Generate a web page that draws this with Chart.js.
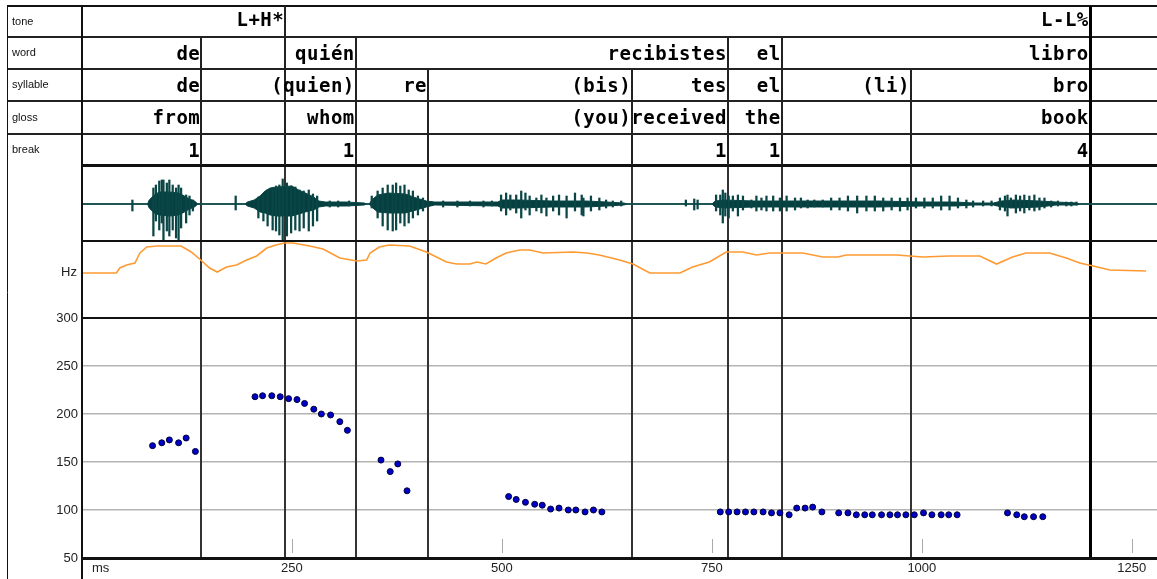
<!DOCTYPE html>
<html lang="es">
<head>
<meta charset="UTF-8">
<title>¿De quién recibistes el libro?</title>
<script src="https://cdn.jsdelivr.net/npm/chart.js"></script>
<style>
  body { margin: 0; background: #fff; }
  canvas { display: block; }
</style>
</head>
<body>
<canvas id="grafico" width="1157" height="579"></canvas>
<script>
// ---- annotation tiers (segment end times in ms) ----
const tierNames = ['tone', 'word', 'syllable', 'gloss', 'break'];
const toneEnds = [242, 1200];
const toneLabels = ['L+H*', 'L-L%'];
const wordEnds = [142, 326, 769, 833, 1200];
const wordLabels = ['de', 'quién', 'recibistes', 'el', 'libro'];
const syllableEnds = [142, 326, 412, 655, 769, 833, 987, 1200];
const syllableLabels = ['de', '(quien)', 're', '(bis)', 'tes', 'el', '(li)', 'bro'];
const glossLabels = ['from', 'whom', '', '(you)', 'received', 'the', '', 'book'];
const breakLabels = ['1', '1', '', '', '1', '1', '', '4'];

// ---- F0 measurements (ms, Hz) ----
const f0Ms = [84, 95, 104, 115, 124, 135,
  206, 215, 226, 236, 246, 256, 265, 276, 285, 296, 307, 316,
  356, 367, 376, 387,
  508, 517, 528, 539, 548, 558, 568, 579, 588, 599, 609, 619,
  760, 770, 780, 790, 800, 811, 821, 831, 842, 851, 861, 870, 881, 901, 912, 922, 932,
  941, 952, 962, 971, 981, 991, 1002, 1012, 1023, 1032, 1042, 1102, 1113, 1122, 1133, 1144];
const f0Hz = [167, 170, 173, 170, 175, 161,
  218, 219, 219, 218, 216, 215, 211, 205, 200, 199, 192, 183,
  152, 140, 148, 120,
  114, 111, 108, 106, 105, 101, 102, 100, 100, 98, 100, 98,
  98, 98, 98, 98, 98, 98, 97, 97, 95, 102, 102, 103, 98, 97, 97, 95, 95,
  95, 95, 95, 95, 95, 95, 97, 95, 95, 95, 95, 97, 95, 93, 93, 93];

// ---- smoothed pitch contour (ms, level above panel floor) ----
const contourMs = [0, 0, 41, 45, 53, 63, 69, 77, 89, 118, 130, 140, 152, 161, 172, 184, 196, 208, 220, 231,
  241, 251, 271, 287, 307, 327, 339, 343, 354, 366, 390, 410, 434, 446, 462, 470, 481, 493, 505, 521,
  533, 549, 585, 601, 616, 640, 656, 676, 712, 727, 747, 767, 787, 803, 819, 858, 882, 900, 910, 970,
  1001, 1033, 1069, 1089, 1108, 1124, 1152, 1172, 1188, 1204, 1224, 1267];
const contourLevel = [1, 45, 45, 50, 53, 55, 65, 71, 72, 72, 66, 59, 50, 46, 51, 53, 58, 62, 70, 73,
  75, 75, 72, 69, 60, 57, 58, 65, 71, 73, 72, 66, 56, 54, 54, 56, 54, 60, 65, 68,
  68, 65, 66, 65, 63, 58, 54, 45, 45, 51, 56, 66, 66, 63, 65, 65, 61, 61, 63, 63,
  61, 62, 62, 54, 61, 65, 65, 60, 55, 52, 48, 47];

// ---- waveform: dense core envelope ----
const coreMs = [0, 78, 80, 86, 92, 105, 115, 122, 128, 134, 138, 194, 197, 205, 212, 218, 224, 232, 250, 258,
  266, 276, 282, 290, 315, 336, 339, 342, 345, 352, 365, 385, 398, 410, 420, 495, 500, 520, 560, 600,
  625, 645, 650, 750, 754, 765, 800, 850, 900, 950, 1000, 1040, 1062, 1085, 1095, 1110, 1140, 1160, 1185, 1188, 1280];
const coreHigh = [0, 0, 4, 9, 12, 12, 11, 8, 5, 3, 0, 0, 2, 4, 8, 13, 16, 17, 18, 14,
  11, 7, 3, 2, 2, 1, 0, 0, 4, 9, 11, 10, 6, 3, 2, 2, 4, 4, 3, 3,
  2, 1, 0, 0, 3, 4, 3, 3, 3, 3, 2, 2, 1, 1, 3, 4, 3, 2, 1, 0, 0];
const coreLow = [0, 0, -4, -9, -11, -12, -11, -8, -5, -3, 0, 0, -2, -4, -8, -9, -11, -12, -12, -10,
  -8, -6, -3, -2, -2, -1, 0, 0, -3, -8, -9, -9, -6, -3, -1, -2, -4, -4, -3, -3,
  -2, -1, 0, 0, -3, -4, -3, -3, -3, -3, -2, -2, -1, -1, -3, -4, -3, -1, -1, 0, 0];

// ---- waveform: individual peaks ----
const spikeMs = [60,
  85, 88, 92, 95, 97, 101, 104, 108, 112, 115, 118, 124, 128, 132,
  183, 210, 216, 221, 227, 231, 235, 239, 244, 249, 254, 259, 264, 270, 275, 280, 295, 305, 318,
  345, 352, 358, 364, 370, 374, 379, 384, 389, 394, 400, 406, 430, 447, 462, 478, 488,
  499, 505, 510, 517, 523, 528, 533, 541, 547, 553, 561, 568, 577, 587, 595, 597, 606, 616, 624, 632, 642,
  719, 729, 733,
  755, 760, 763, 766, 770, 775, 781, 787, 797, 803, 809, 815, 823, 831, 839, 849, 856, 864, 872, 882,
  892, 902, 912, 923, 934, 944, 954, 964, 974, 983, 993, 1003, 1013, 1023, 1033, 1043, 1053, 1061, 1073, 1083,
  1093, 1099, 1102, 1106, 1112, 1117, 1122, 1128, 1134, 1140, 1146, 1154, 1162, 1172, 1178, 1184];
const spikeHigh = [4,
  16, 19, 23, 24, 24, 21, 24, 19, 16, 19, 16, 9, 8, 4,
  8, 7, 9, 14, 16, 18, 19, 25, 21, 18, 17, 14, 13, 14, 10, 8, 3, 3, 3,
  8, 13, 16, 19, 19, 21, 18, 19, 14, 13, 8, 6, 3, 3, 3, 3, 3,
  9, 11, 9, 9, 13, 11, 8, 6, 9, 6, 8, 9, 8, 11, 9, 6, 8, 6, 4, 3, 3,
  4, 5, 4,
  9, 9, 14, 11, 8, 8, 9, 8, 4, 8, 6, 8, 8, 6, 8, 6, 6, 4, 4, 4,
  6, 6, 8, 8, 8, 8, 6, 6, 6, 6, 6, 6, 6, 8, 8, 6, 4, 3, 3, 3,
  6, 8, 9, 6, 9, 8, 9, 8, 9, 6, 6, 3, 3, 2, 2, 2];
const spikeLow = [-7,
  -32, -17, -26, -19, -36, -27, -32, -26, -34, -36, -24, -19, -11, -7,
  -6, -14, -17, -22, -26, -27, -31, -37, -32, -29, -26, -27, -24, -27, -22, -17, -3, -3, -2,
  -4, -14, -22, -26, -27, -26, -19, -22, -19, -14, -11, -7, -3, -3, -2, -3, -2,
  -7, -11, -6, -9, -14, -6, -11, -7, -9, -12, -7, -11, -14, -7, -11, -12, -7, -6, -4, -3, -2,
  -2, -6, -5,
  -7, -11, -19, -12, -14, -7, -12, -6, -4, -7, -6, -7, -7, -7, -7, -6, -4, -4, -3, -3,
  -6, -6, -7, -9, -7, -7, -7, -6, -7, -6, -4, -4, -4, -6, -6, -4, -4, -3, -2, -2,
  -6, -7, -12, -4, -9, -7, -9, -6, -7, -6, -4, -3, -2, -2, -2, -1];

// ---- axes ----
const timeMin = 0;
const timeMax = 1280;
const timeTicks = [250, 500, 750, 1000, 1250];
const hzTicks = [50, 100, 150, 200, 250, 300];

// ---- page layout (px) ----
const L = {
  frameLeft: 7,
  plotLeft: 82,
  top: 6,
  rows: [6, 37, 69, 101, 134, 165],
  waveMid: 204,
  contourTop: 241,
  pitchTop: 318,
  bottom: 558,
  axisH: 21
};

const hzMin = hzTicks[0];
const hzTop = hzTicks[hzTicks.length - 1];
const pxPerHz = (L.bottom - L.pitchTop) / (hzTop - hzMin);
const phraseEnd = toneEnds[toneEnds.length - 1];

Chart.defaults.font.family = '"Liberation Sans", Arial, sans-serif';

function vline(ctx, x, y1, y2, w, color) {
  ctx.save();
  ctx.strokeStyle = color;
  ctx.lineWidth = w;
  const xx = w % 2 ? Math.round(x) + 0.5 : Math.round(x);
  ctx.beginPath();
  ctx.moveTo(xx, y1);
  ctx.lineTo(xx, y2);
  ctx.stroke();
  ctx.restore();
}

function hline(ctx, y, x1, x2, w, color) {
  ctx.save();
  ctx.strokeStyle = color;
  ctx.lineWidth = w;
  const yy = w % 2 ? Math.round(y) + 0.5 : Math.round(y);
  ctx.beginPath();
  ctx.moveTo(x1, yy);
  ctx.lineTo(x2, yy);
  ctx.stroke();
  ctx.restore();
}

const tiers = [
  { ends: toneEnds, labels: toneLabels },
  { ends: wordEnds, labels: wordLabels },
  { ends: syllableEnds, labels: syllableLabels },
  { ends: syllableEnds, labels: glossLabels },
  { ends: syllableEnds, labels: breakLabels }
];

// frame, tiers and labels around the plot
const etiquetado = {
  id: 'etiquetado',
  beforeDatasetsDraw(chart) {
    const { ctx, scales: { x } } = chart;
    const cortes = [...new Set([...syllableEnds, ...toneEnds])];
    cortes.forEach(ms => {
      const px = x.getPixelForValue(ms);
      if (ms === phraseEnd) vline(ctx, px, L.rows[5], L.bottom, 3, '#000');
      else vline(ctx, px, L.rows[5], L.bottom, 2, '#333');
    });
  },
  afterDraw(chart) {
    const { ctx, scales: { x }, width, height } = chart;

    // outer frame and horizontal rules
    hline(ctx, L.top, L.frameLeft, width, 2, '#111');
    for (let r = 1; r < 5; r++) hline(ctx, L.rows[r], L.frameLeft, width, 2, '#222');
    hline(ctx, L.rows[5], L.plotLeft, width, 3, '#111');
    hline(ctx, L.contourTop, L.plotLeft, width, 2, '#111');
    hline(ctx, L.pitchTop, L.plotLeft, width, 2, '#111');
    hline(ctx, L.bottom, L.plotLeft, width, 3, '#111');
    vline(ctx, L.frameLeft, L.top, height, 1, '#111');
    vline(ctx, L.plotLeft, L.top, height, 2, '#111');

    // tiers
    tiers.forEach((tier, r) => {
      const y1 = L.rows[r];
      const y2 = L.rows[r + 1];
      const cortes = [...new Set([...tier.ends, ...toneEnds])];
      cortes.forEach(ms => {
        const px = x.getPixelForValue(ms);
        if (ms === phraseEnd) vline(ctx, px, y1, y2, 3, '#000');
        else vline(ctx, px, y1, y2, 2, '#222');
      });

      ctx.save();
      ctx.fillStyle = '#000';
      ctx.font = 'bold 19px "DejaVu Sans Mono", monospace';
      ctx.letterSpacing = '0.5px';
      ctx.textAlign = 'right';
      ctx.textBaseline = 'alphabetic';
      tier.labels.forEach((t, i) => {
        if (t) ctx.fillText(t, x.getPixelForValue(tier.ends[i]) - 1, y1 + (r === 0 ? 20 : 23));
      });
      ctx.restore();

      ctx.save();
      ctx.fillStyle = '#111';
      ctx.font = '11px "Liberation Sans", Arial, sans-serif';
      ctx.textAlign = 'left';
      ctx.textBaseline = 'middle';
      ctx.fillText(tierNames[r], 12, (y1 + y2) / 2);
      ctx.restore();
    });

    // unit labels
    ctx.save();
    ctx.fillStyle = '#222';
    ctx.font = '13px "Liberation Sans", Arial, sans-serif';
    ctx.textBaseline = 'middle';
    ctx.textAlign = 'right';
    ctx.fillText('Hz', 77, 272);
    ctx.textAlign = 'left';
    ctx.fillText('ms', 92, 568);
    ctx.restore();

    // small time marks above the axis
    x.ticks.forEach(t => {
      vline(ctx, x.getPixelForValue(t.value), 539, 553, 1, '#aaa');
    });
  }
};

const ctx = document.getElementById('grafico').getContext('2d');

new Chart(ctx, {
  type: 'line',
  data: {
    datasets: [
      {
        type: 'scatter',
        label: 'F0',
        data: f0Ms.map((ms, i) => ({ x: ms, y: f0Hz[i] })),
        yAxisID: 'y',
        pointRadius: 3,
        pointBackgroundColor: '#0000c8',
        pointBorderColor: '#00003a',
        pointBorderWidth: 1
      },
      {
        type: 'line',
        label: 'contorno',
        data: contourMs.map((ms, i) => ({ x: ms, y: contourLevel[i] })),
        yAxisID: 'yc',
        borderColor: '#ff9a33',
        borderWidth: 1.6,
        pointRadius: 0,
        tension: 0
      },
      {
        type: 'bar',
        label: 'picos',
        data: spikeMs.map((ms, i) => ({ x: ms, y: [spikeLow[i], spikeHigh[i]] })),
        yAxisID: 'yw',
        backgroundColor: '#0b4646',
        barThickness: 1.6
      },
      {
        type: 'line',
        label: 'onda sup',
        data: coreMs.map((ms, i) => ({ x: ms, y: coreHigh[i] })),
        yAxisID: 'yw',
        borderColor: '#0b4646',
        borderWidth: 1,
        backgroundColor: '#053f3f',
        fill: '+1',
        pointRadius: 0
      },
      {
        type: 'line',
        label: 'onda inf',
        data: coreMs.map((ms, i) => ({ x: ms, y: coreLow[i] })),
        yAxisID: 'yw',
        borderColor: '#0b4646',
        borderWidth: 1,
        pointRadius: 0
      },
      {
        type: 'line',
        label: 'base',
        data: [{ x: timeMin, y: 0 }, { x: timeMax, y: 0 }],
        yAxisID: 'yw',
        borderColor: '#2b5f5f',
        borderWidth: 1.5,
        pointRadius: 0
      }
    ]
  },
  options: {
    responsive: false,
    animation: false,
    events: [],
    layout: {
      autoPadding: false,
      padding: { left: L.frameLeft, top: L.top, right: 0, bottom: 0 }
    },
    plugins: {
      legend: { display: false },
      tooltip: { enabled: false }
    },
    scales: {
      x: {
        type: 'linear',
        min: timeMin,
        max: timeMax,
        offset: false,
        afterBuildTicks: s => { s.ticks = timeTicks.map(v => ({ value: v })); },
        afterFit: s => { s.height = L.axisH; s.paddingLeft = 0; s.paddingRight = 0; },
        ticks: {
          autoSkip: false,
          maxRotation: 0,
          padding: 3,
          color: '#222',
          font: { size: 13 },
          callback: v => String(v)
        },
        grid: { display: false, drawTicks: false },
        border: { display: false }
      },
      y: {
        type: 'linear',
        position: 'left',
        min: hzMin,
        max: hzMin + (L.bottom - L.top) / pxPerHz,
        afterBuildTicks: s => { s.ticks = hzTicks.map(v => ({ value: v })); },
        afterFit: s => { s.width = L.plotLeft - L.frameLeft; s.paddingTop = 0; s.paddingBottom = 0; },
        ticks: {
          padding: 4,
          color: '#222',
          font: { size: 13 },
          callback: v => String(v)
        },
        grid: { color: '#b4b4b4', lineWidth: 1.5, drawTicks: false },
        border: { display: false }
      },
      yc: {
        type: 'linear',
        display: false,
        min: -(L.bottom - L.pitchTop),
        max: L.pitchTop - L.top
      },
      yw: {
        type: 'linear',
        display: false,
        min: -(L.bottom - L.waveMid),
        max: L.waveMid - L.top
      }
    }
  },
  plugins: [etiquetado]
});
</script>
</body>
</html>
